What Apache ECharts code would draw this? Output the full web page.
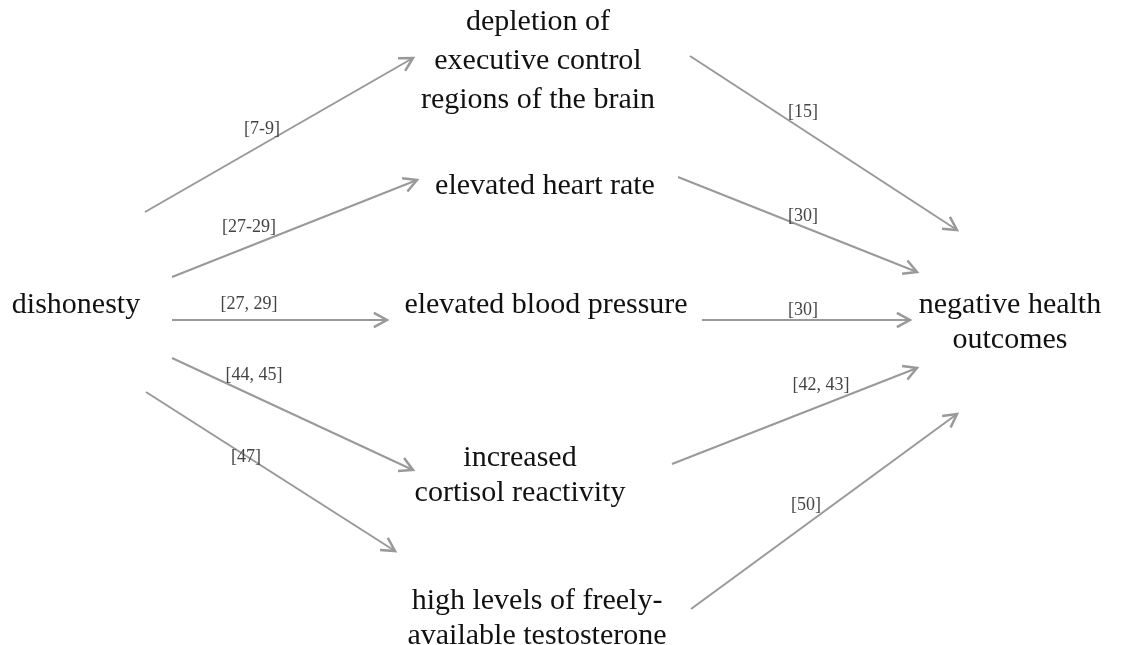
<!DOCTYPE html>
<html>
<head>
<meta charset="utf-8">
<script src="https://cdn.jsdelivr.net/npm/echarts@6/dist/echarts.min.js"></script>
<style>
  html, body { margin: 0; padding: 0; background: #fff; }
  #chart { width: 1121px; height: 645px; }
</style>
</head>
<body>
<div id="chart"></div>
<script>
// nodes of the diagram (text, centre in picture units)
const nodeNames = [
    'dishonesty',
    'depletion of\nexecutive control\nregions of the brain',
    'elevated heart rate',
    'elevated blood pressure',
    'increased\ncortisol reactivity',
    'high levels of freely-\navailable testosterone',
    'negative health\noutcomes'
];
const nodeX = [76, 538, 545, 546, 520, 537, 1010];
const nodeY = [305, 61, 186, 305, 476, 619, 323];

// arrows: start / end points and citation labels
const edgeX1 = [145, 172, 172, 172, 146, 690, 678, 702, 672, 691];
const edgeY1 = [212, 277, 320, 358, 392, 56, 177, 320, 464, 609];
const edgeX2 = [413, 417, 387, 413, 395, 957, 917, 910, 917, 957];
const edgeY2 = [58, 180, 320, 470, 551, 230, 272, 320, 368, 414];
const edgeLabels = ['[7-9]', '[27-29]', '[27, 29]', '[44, 45]', '[47]', '[15]', '[30]', '[30]', '[42, 43]', '[50]'];
const labelX = [262, 249, 249, 254, 246, 803, 803, 803, 821, 806];
const labelY = [129, 227, 304, 375, 457, 112, 216, 310, 385, 505];

const arrowColor = '#999999';
const serif = '"Liberation Serif", "DejaVu Serif", serif';

const chart = echarts.init(document.getElementById('chart'));

const edgeData = edgeX1.map((x, i) => [x, edgeY1[i], edgeX2[i], edgeY2[i]]);

function renderArrow(params, api) {
    const p1 = api.coord([api.value(0), api.value(1)]);
    const p2 = api.coord([api.value(2), api.value(3)]);
    const ang = Math.atan2(p2[1] - p1[1], p2[0] - p1[0]);
    const len = 15, spread = 0.5;
    const a = [p2[0] - len * Math.cos(ang - spread), p2[1] - len * Math.sin(ang - spread)];
    const b = [p2[0] - len * Math.cos(ang + spread), p2[1] - len * Math.sin(ang + spread)];
    const style = { stroke: arrowColor, lineWidth: 2, fill: null };
    return {
        type: 'group',
        children: [
            { type: 'line', shape: { x1: p1[0], y1: p1[1], x2: p2[0], y2: p2[1] }, style: style },
            { type: 'polyline', shape: { points: [a, p2, b] }, style: { stroke: arrowColor, lineWidth: 2.5, fill: null } }
        ]
    };
}

const option = {
    backgroundColor: '#fff',
    animation: false,
    grid: { left: 0, right: 0, top: 0, bottom: 0 },
    xAxis: { type: 'value', min: 0, max: 1121, show: false },
    yAxis: { type: 'value', min: 0, max: 645, inverse: true, show: false },
    series: [
        {
            type: 'custom',
            renderItem: renderArrow,
            data: edgeData,
            silent: true
        },
        {
            type: 'scatter',
            symbolSize: 0,
            silent: true,
            itemStyle: { opacity: 1 },
            data: edgeLabels.map((t, i) => ({ name: t, value: [labelX[i], labelY[i]] })),
            label: {
                show: true,
                position: 'inside',
                formatter: '{b}',
                fontFamily: serif,
                fontSize: 18,
                color: '#444444'
            }
        },
        {
            type: 'scatter',
            symbolSize: 0,
            silent: true,
            itemStyle: { opacity: 1 },
            data: nodeNames.map((t, i) => ({
                name: t,
                value: [nodeX[i], nodeY[i]],
                label: { lineHeight: i === 1 ? 39 : 35 }
            })),
            label: {
                show: true,
                position: 'inside',
                formatter: '{b}',
                align: 'center',
                fontFamily: serif,
                fontSize: 30,
                color: '#111111'
            }
        }
    ]
};

chart.setOption(option);
</script>
</body>
</html>
